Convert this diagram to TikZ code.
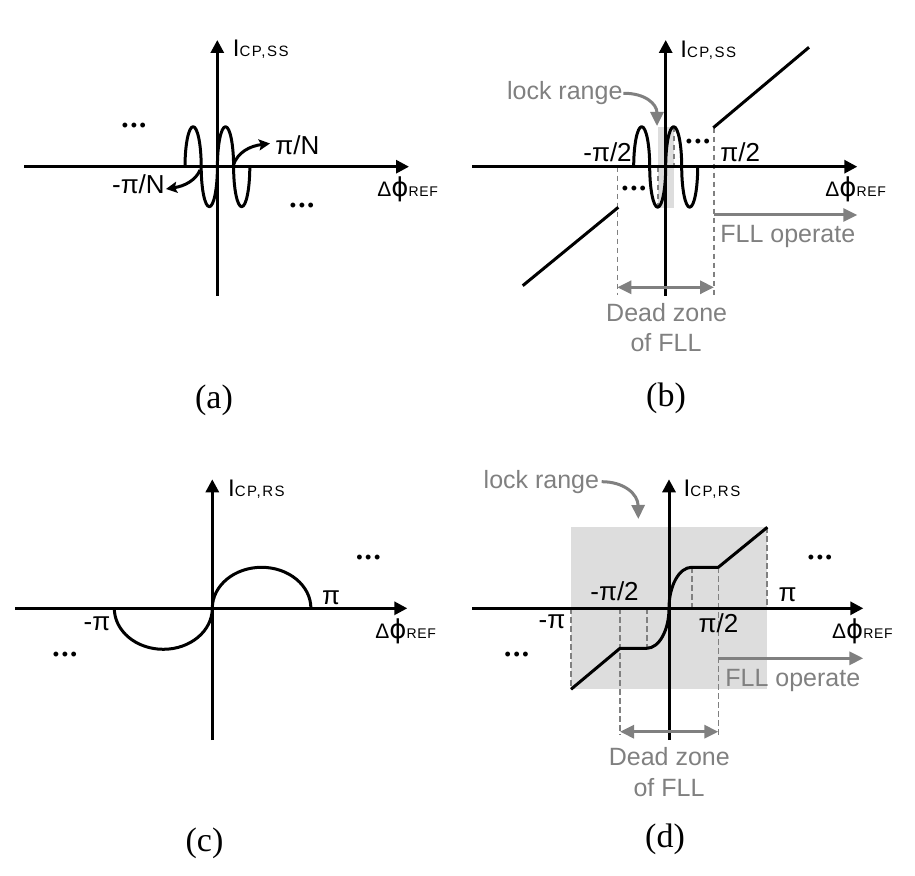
\documentclass[tikz,border=0pt]{standalone}
\usepackage{fontspec}
\setmainfont{Liberation Sans}
\newfontfamily\capfont{Liberation Serif}
\newfontfamily\phifont{DejaVu Sans}
\usetikzlibrary{arrows.meta}
\definecolor{txtgray}{HTML}{808080}
\definecolor{shadegray}{HTML}{DDDDDD}
\newcommand{\dphiref}{{\fontsize{10.5}{11}\selectfont Δ}{\phifont\fontsize{13}{14}\selectfont ϕ}{\fontsize{7}{8}\selectfont\addfontfeature{LetterSpace=5}REF}}
\newcommand{\icp}[1]{{\fontsize{12}{13}\selectfont I}{\fontsize{7.5}{8}\selectfont\addfontfeature{LetterSpace=10}#1}}
\newcommand{\threedots}{•\kern1.3pt•\kern1.3pt•}
\begin{document}
\begin{tikzpicture}[x=0.5pt,y=-0.5pt,
  ax/.style={line width=1.5pt,-{Triangle[length=6.5pt,width=6.5pt]}},
  crv/.style={line width=1.5pt,line join=round},
  dsh/.style={txtgray,line width=0.8pt,dash pattern=on 2.8pt off 1.7pt},
  garr/.style={txtgray,line width=1.5pt,-{Triangle[length=7pt,width=6.5pt]}},
  garrb/.style={txtgray,line width=1.5pt,{Triangle[length=7pt,width=6.5pt]}-{Triangle[length=7pt,width=6.5pt]}},
  sarr/.style={line width=1.5pt,-{Stealth[length=5.5pt,width=5.5pt,inset=1pt]}},
  lbl/.style={inner sep=0pt,anchor=base west,font=\fontsize{13}{14}\selectfont},
  glbl/.style={inner sep=0pt,anchor=base west,text=txtgray,font=\fontsize{12.5}{14}\selectfont},
  glblc/.style={inner sep=0pt,anchor=base,text=txtgray,font=\fontsize{12.5}{14}\selectfont},
  axlbl/.style={inner sep=0pt,anchor=base west},
  dotlbl/.style={inner sep=0pt,font=\fontsize{9}{10}\selectfont},
  caplbl/.style={inner sep=0pt,font=\capfont\fontsize{17}{18}\selectfont}]
\useasboundingbox (0,0) rectangle (915,876);

% ================= (a) =================
\coordinate (aY0) at (217.3,295.7); \coordinate (aY1) at (217.3,40);
\coordinate (aX0) at (24,166.7);    \coordinate (aX1) at (409,166.7);
\draw[crv] (185,166.7) arc[start angle=180,end angle=360,x radius=8.1,y radius=40]
  arc[start angle=180,end angle=0,x radius=8.1,y radius=40]
  arc[start angle=180,end angle=360,x radius=8.1,y radius=40]
  arc[start angle=180,end angle=0,x radius=8.1,y radius=40];
\draw[ax] (aY0) -- (aY1);
\draw[ax] (aX0) -- (aX1);
\node[axlbl] (aI) at (232.5,56.7) {\icp{CP,SS}};
\node[axlbl] (aD) at (377,196.7) {\dphiref};
\node[lbl] (apn) at (275,155) {π/N};
\node[lbl] (amn) at (111.7,193.3) {-π/N};
\coordinate (apS) at (233.3,165); \coordinate (apE) at (270,143.5);
\coordinate (amS) at (200,170);   \coordinate (amE) at (166,189);
\draw[sarr] (apS) .. controls (238,152) and (250,146) .. (apE);
\draw[sarr] (amS) .. controls (196,180) and (185,186) .. (amE);
\node[dotlbl] (ad1) at (134,127) {\threedots};
\node[dotlbl] (ad2) at (302,207) {\threedots};
\node[caplbl] (acap) at (214,400) {(a)};

% ================= (b) =================
\coordinate (bY0) at (665.7,295.7); \coordinate (bY1) at (665.7,40);
\coordinate (bX0) at (472.3,166.7); \coordinate (bX1) at (857.3,166.7);
\fill[shadegray] (657.5,126.7) rectangle (673.5,208);
\draw[dsh] (617.3,166.7) -- (617.3,295);
\draw[dsh] (714,127.7) -- (714,295);
\draw[dsh] (657.7,166.7) -- (657.7,207);
\draw[dsh] (673.7,126.7) -- (673.7,166.7);
\coordinate (bL0) at (522.7,285.7); \coordinate (bL1) at (618.3,207.3);
\coordinate (bR0) at (713.3,127.7); \coordinate (bR1) at (809,47.3);
\draw[crv] (bL0) -- (bL1);
\draw[crv] (bR0) -- (bR1);
\draw[crv] (633.7,166.7) arc[start angle=180,end angle=360,x radius=8,y radius=40]
  arc[start angle=180,end angle=0,x radius=8,y radius=40.5]
  arc[start angle=180,end angle=360,x radius=8,y radius=40]
  arc[start angle=180,end angle=0,x radius=8,y radius=40.5];
\draw[ax] (bY0) -- (bY1);
\draw[ax] (bX0) -- (bX1);
\node[axlbl] (bI) at (680,57.5) {\icp{CP,SS}};
\node[axlbl] (bD) at (825,196.7) {\dphiref};
\node[lbl] (bmh) at (583,161.7) {-π/2};
\node[lbl] (bph) at (720,161.7) {π/2};
\node[dotlbl] (bd1) at (698,143.3) {\threedots};
\node[dotlbl] (bd2) at (634,190.7) {\threedots};
\node[glbl] (block) at (506.7,100) {lock range};
\coordinate (blS) at (623.3,93.3); \coordinate (blE) at (657,126);
\draw[garr] (blS) .. controls (645,93) and (657,104) .. (blE);
\coordinate (bdz0) at (617.3,287.3); \coordinate (bdz1) at (714,287.3);
\draw[garrb] (bdz0) -- (bdz1);
\node[glblc] (bdz) at (666.7,321.7) {Dead zone};
\node[glblc] (bof) at (666,351.7) {of FLL};
\coordinate (bf0) at (714,215); \coordinate (bf1) at (857.3,215);
\draw[garr] (bf0) -- (bf1);
\node[glbl] (bfll) at (720,242.7) {FLL operate};
\node[caplbl] (bcap) at (666,398) {(b)};

% ================= (c) =================
\coordinate (cY0) at (212.3,740);   \coordinate (cY1) at (212.3,479.3);
\coordinate (cX0) at (15,608.3);    \coordinate (cX1) at (407.3,608.3);
\draw[crv] (114.3,608.3) arc[start angle=180,end angle=0,x radius=49,y radius=41]
  arc[start angle=180,end angle=360,x radius=49.3,y radius=41];
\draw[ax] (cY0) -- (cY1);
\draw[ax] (cX0) -- (cX1);
\node[axlbl] (cI) at (227.7,496.7) {\icp{CP,RS}};
\node[axlbl] (cD) at (375,638.5) {\dphiref};
\node[lbl] (cmp) at (83.3,630.7) {-π};
\node[lbl] (cpp) at (321.7,604) {π};
\node[dotlbl] (cd1) at (368.3,559) {\threedots};
\node[dotlbl] (cd2) at (65,656.7) {\threedots};
\node[caplbl] (ccap) at (204.5,843) {(c)};

% ================= (d) =================
\coordinate (dY0) at (669,740);     \coordinate (dY1) at (669,479.3);
\coordinate (dX0) at (472.3,608.3); \coordinate (dX1) at (863.3,608.3);
\fill[shadegray] (571,527.3) rectangle (766.7,689.3);
\draw[dsh] (571,608.3) -- (571,689.3);
\draw[dsh] (620,608.3) -- (620,735);
\draw[dsh] (646.7,608.3) -- (646.7,648.3);
\draw[dsh] (691.7,567.3) -- (691.7,608.3);
\draw[dsh] (718.3,567.3) -- (718.3,735);
\draw[dsh] (767,527.3) -- (767,608.3);
\draw[crv] (571,689.3) -- (620,648.3) -- (646.7,648.3)
  arc[start angle=90,end angle=0,x radius=22.3,y radius=40]
  arc[start angle=180,end angle=270,x radius=22.7,y radius=41]
  -- (718.3,567.3) -- (767.3,527.3);
\draw[ax] (dY0) -- (dY1);
\draw[ax] (dX0) -- (dX1);
\node[axlbl] (dI) at (683.3,496.7) {\icp{CP,RS}};
\node[axlbl] (dD) at (831.7,638.5) {\dphiref};
\node[lbl] (dmh) at (590,600) {-π/2};
\node[lbl] (dph) at (698.3,632.7) {π/2};
\node[lbl] (dmp) at (538.3,628.3) {-π};
\node[lbl] (dpp) at (778.3,601.7) {π};
\node[dotlbl] (dd1) at (820,559) {\threedots};
\node[dotlbl] (dd2) at (516.7,656.7) {\threedots};
\node[glbl] (dlock) at (483.3,489) {lock range};
\coordinate (dlS) at (601.7,481.7); \coordinate (dlE) at (638.3,519);
\draw[garr] (dlS) .. controls (624,481.7) and (638,494) .. (dlE);
\coordinate (ddz0) at (620,731.7); \coordinate (ddz1) at (718.3,731.7);
\draw[garrb] (ddz0) -- (ddz1);
\node[glblc] (ddz) at (669.3,765) {Dead zone};
\node[glblc] (dof) at (669,796) {of FLL};
\coordinate (df0) at (718.3,658.3); \coordinate (df1) at (863.3,658.3);
\draw[garr] (df0) -- (df1);
\node[glbl] (dfll) at (725,686) {FLL operate};
\node[caplbl] (dcap) at (665,839) {(d)};
\end{tikzpicture}
\end{document}
